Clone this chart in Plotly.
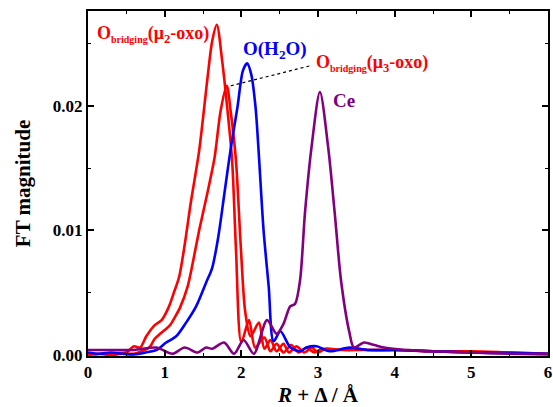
import plotly.graph_objects as go

# ---- data ----
r_mu2 = [0, 0.1, 0.2, 0.3, 0.4, 0.5, 0.6, 0.68, 0.76, 0.87, 0.96, 1.05, 1.12, 1.19, 1.26, 1.34, 1.45, 1.56, 1.62, 1.68, 1.75, 1.82, 1.88, 1.93, 2.0, 2.1, 2.18, 2.3, 2.38, 2.46, 2.55, 2.65, 2.75, 2.85, 2.95, 3.05, 3.2, 3.4, 3.7, 4.0, 4.5, 5.0, 5.5, 6.0]
v_mu2 = [0.0001, 0.00005, 0.0001, 0.00003, 0.0001, 0.0002, 0.0007, 0.0006, 0.0015, 0.0024, 0.0028, 0.0038, 0.0050, 0.0063, 0.0088, 0.0122, 0.0164, 0.0223, 0.0252, 0.0265, 0.0236, 0.0196, 0.0156, 0.0085, 0.0010, 0.0028, 0.0006, 0.0014, 0.0003, 0.0009, 0.0002, 0.0008, 0.0002, 0.0006, 0.0002, 0.0005, 0.0004, 0.0005, 0.0004, 0.0004, 0.0003, 0.0003, 0.0002, 0.0001]

r_mu3 = [0, 0.15, 0.3, 0.45, 0.6, 0.7, 0.8, 0.87, 0.94, 1.0, 1.07, 1.13, 1.2, 1.3, 1.37, 1.45, 1.55, 1.65, 1.73, 1.81, 1.86, 1.93, 1.99, 2.05, 2.12, 2.23, 2.3, 2.38, 2.46, 2.55, 2.62, 2.72, 2.82, 2.92, 3.0, 3.1, 3.3, 3.6, 4.0, 4.5, 5.0, 5.5, 6.0]
v_mu3 = [0.0000, 0.0001, 0.0000, 0.0001, 0.0001, 0.0003, 0.0006, 0.0013, 0.0017, 0.0020, 0.0024, 0.0030, 0.0038, 0.0055, 0.0075, 0.0100, 0.0128, 0.0158, 0.0196, 0.0216, 0.0196, 0.0156, 0.0090, 0.0035, 0.0015, 0.0026, 0.0005, 0.0012, 0.0003, 0.0009, 0.0002, 0.0007, 0.0002, 0.0006, 0.0002, 0.0005, 0.0004, 0.0004, 0.0004, 0.0003, 0.0002, 0.0002, 0.0001]

r_h2o = [0, 0.15, 0.3, 0.45, 0.6, 0.75, 0.89, 1.02, 1.15, 1.28, 1.41, 1.54, 1.62, 1.70, 1.78, 1.86, 1.95, 2.02, 2.076, 2.13, 2.185, 2.227, 2.29, 2.357, 2.42, 2.51, 2.64, 2.77, 2.85, 2.98, 3.15, 3.41, 3.65, 4.0, 4.5, 5.0, 5.5, 6.0]
v_h2o = [0.0002, 0.0001, 0.0002, 0.0001, 0.00005, 0.0002, 0.0004, 0.0010, 0.0015, 0.0026, 0.0039, 0.0058, 0.0070, 0.0095, 0.0130, 0.0165, 0.0199, 0.0228, 0.0234, 0.0225, 0.0199, 0.0162, 0.0100, 0.0055, 0.0011, 0.0019, 0.0006, 0.0003, 0.0006, 0.0007, 0.0003, 0.0006, 0.0004, 0.0004, 0.0003, 0.0002, 0.00015, 0.0001]

r_ce = [0, 0.3, 0.6, 0.89, 1.1, 1.26, 1.43, 1.54, 1.62, 1.775, 1.905, 2.03, 2.163, 2.335, 2.46, 2.55, 2.637, 2.7, 2.766, 2.83, 2.916, 3.025, 3.132, 3.218, 3.3, 3.41, 3.468, 3.6, 3.735, 3.86, 4.08, 4.5, 5.0, 5.5, 6.0]
v_ce = [0.0004, 0.0004, 0.0004, 0.0006, 0.0001, 0.0006, 0.0002, 0.0006, 0.0005, 0.0010, 0.0001, 0.0012, 0.0001, 0.0028, 0.0017, 0.0025, 0.0039, 0.0041, 0.0060, 0.0114, 0.0167, 0.0211, 0.0167, 0.0114, 0.0060, 0.0018, 0.0006, 0.0010, 0.0008, 0.0006, 0.00044, 0.0003, 0.0002, 0.0001, 0.00005]

leader_r = [1.862, 2.895]
leader_v = [0.0216, 0.0232]

x_ticks = [0, 1, 2, 3, 4, 5, 6]
y_ticks = [0.00, 0.01, 0.02]

RED = "#ff0000"
BLUE = "#0000ff"
PURPLE = "#800080"
FONT = "Liberation Serif"

fig = go.Figure()
for r, v, c in [(r_mu2, v_mu2, RED), (r_mu3, v_mu3, RED), (r_h2o, v_h2o, BLUE), (r_ce, v_ce, PURPLE)]:
    fig.add_trace(go.Scatter(x=r, y=v, mode="lines",
                             line=dict(color=c, width=2.6, shape="spline", smoothing=0.8),
                             showlegend=False, hoverinfo="skip"))
fig.add_trace(go.Scatter(x=leader_r, y=leader_v, mode="lines",
                         line=dict(color="black", width=1.2, dash="3px,3px"),
                         showlegend=False, hoverinfo="skip"))

fs = 19
fs_mu = 18
SUBB = "<sub><span style='font-size:10px'>bridging</span></sub>"
fig.add_annotation(x=0.085, y=0.0257, xanchor="left", yanchor="middle", showarrow=False,
                   text="O" + SUBB + "(μ<sub>2</sub>-oxo)",
                   font=dict(family=FONT, size=fs_mu, color=RED, weight="bold"))
fig.add_annotation(x=2.0, y=0.0245, xanchor="left", yanchor="middle", showarrow=False,
                   text="O(H<sub>2</sub>O)",
                   font=dict(family=FONT, size=fs, color=BLUE, weight="bold"))
fig.add_annotation(x=2.95, y=0.0234, xanchor="left", yanchor="middle", showarrow=False,
                   text="O" + SUBB + "(μ<sub>3</sub>-oxo)",
                   font=dict(family=FONT, size=fs_mu, color=RED, weight="bold"))
fig.add_annotation(x=3.17, y=0.0204, xanchor="left", yanchor="middle", showarrow=False,
                   text="Ce",
                   font=dict(family=FONT, size=fs, color=PURPLE, weight="bold"))

axis_common = dict(showline=True, linecolor="black", linewidth=2, mirror="ticks",
                   ticks="inside", ticklen=6, tickwidth=1.5, tickcolor="black",
                   showgrid=False, zeroline=False,
                   tickfont=dict(family=FONT, size=17, color="black", weight="bold"))

fig.update_xaxes(range=[0, 6], tickvals=x_ticks, ticktext=[str(t) for t in x_ticks],
                 ticklabeloverflow="allow",
                 minor=dict(dtick=0.5, ticks="inside", ticklen=3, tickcolor="black", tickwidth=1),
                 title=dict(text="<i>R</i> + Δ / Å", standoff=6,
                            font=dict(family=FONT, size=21, color="black", weight="bold")),
                 **axis_common)
fig.update_yaxes(range=[-0.00008, 0.0276], tickvals=y_ticks, ticktext=[f"{t:.2f}" for t in y_ticks],
                 minor=dict(dtick=0.005, ticks="inside", ticklen=3, tickcolor="black", tickwidth=1),
                 title=dict(text="FT magnitude", standoff=16,
                            font=dict(family=FONT, size=21, color="black", weight="bold")),
                 **axis_common)

fig.update_layout(width=553, height=407, margin=dict(l=88, r=1, t=11, b=51),
                  plot_bgcolor="white", paper_bgcolor="white")

fig.write_html("out.html", config={"displayModeBar": False},
               post_script="document.body.style.margin='0';")
